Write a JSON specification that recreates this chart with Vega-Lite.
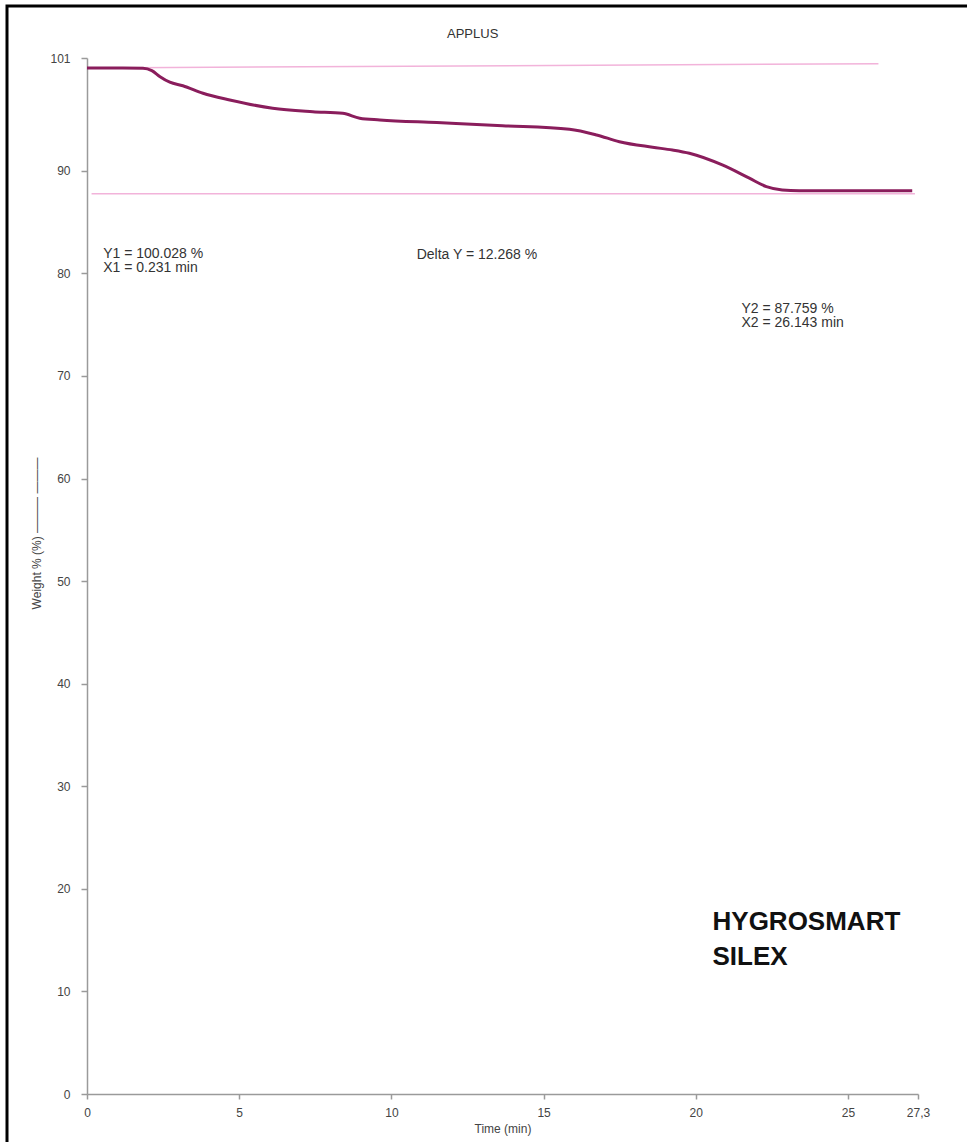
{
  "$schema": "https://vega.github.io/schema/vega-lite/v6.json",
  "autosize": {"type": "none"},
  "width": 960,
  "height": 1136,
  "padding": {"left": 7, "top": 6, "right": 0, "bottom": 0},
  "background": "white",
  "config": {
    "view": {"stroke": "#000000", "strokeWidth": 3, "strokeDash": [960, 2096, 1200, 100]},
    "font": "Liberation Sans",
    "axis": {
      "domainColor": "#9a9a9a",
      "tickColor": "#9a9a9a",
      "labelColor": "#444444",
      "titleColor": "#444444",
      "labelFont": "Liberation Sans",
      "titleFont": "Liberation Sans",
      "labelFontSize": 12,
      "titleFontSize": 12,
      "titleFontWeight": "normal",
      "grid": false,
      "domainWidth": 1.5,
      "tickWidth": 1.5
    }
  },
  "title": {
    "text": "APPLUS",
    "fontSize": 13,
    "fontWeight": "normal",
    "color": "#333333",
    "font": "Liberation Sans",
    "anchor": "start",
    "dx": 440,
    "offset": -35
  },
  "datasets": {
    "curve": [
      {"t": 0.0, "w": 100.03},
      {"t": 1.0, "w": 100.02},
      {"t": 1.84, "w": 100.0},
      {"t": 2.13, "w": 99.77},
      {"t": 2.4, "w": 99.18},
      {"t": 2.72, "w": 98.64},
      {"t": 3.15, "w": 98.3},
      {"t": 3.81, "w": 97.56},
      {"t": 4.69, "w": 96.91},
      {"t": 6.1, "w": 96.1},
      {"t": 7.42, "w": 95.77},
      {"t": 8.4, "w": 95.61},
      {"t": 8.96, "w": 95.13},
      {"t": 9.62, "w": 94.96},
      {"t": 11.49, "w": 94.7},
      {"t": 13.65, "w": 94.4},
      {"t": 15.85, "w": 94.05},
      {"t": 16.74, "w": 93.5},
      {"t": 17.49, "w": 92.84},
      {"t": 18.58, "w": 92.3},
      {"t": 19.23, "w": 92.03},
      {"t": 19.79, "w": 91.71},
      {"t": 20.87, "w": 90.57},
      {"t": 21.76, "w": 89.28},
      {"t": 22.32, "w": 88.46},
      {"t": 22.84, "w": 88.13},
      {"t": 23.4, "w": 88.06},
      {"t": 25.0, "w": 88.05},
      {"t": 27.11, "w": 88.05}
    ],
    "refs": [
      {"line": "upper", "t": 0.0, "w": 100.03},
      {"line": "upper", "t": 26.0, "w": 100.45},
      {"line": "lower", "t": 0.15, "w": 87.76},
      {"line": "lower", "t": 27.2, "w": 87.76}
    ],
    "notes": [
      {"t": 0.53, "w": 82.6, "label": "Y1 = 100.028 %\nX1 = 0.231 min"},
      {"t": 10.83, "w": 82.5, "label": "Delta Y = 12.268 %"},
      {"t": 21.5, "w": 77.2, "label": "Y2 = 87.759 %\nX2 = 26.143 min"}
    ],
    "tag": [
      {"t": 20.55, "w": 16.0, "label": "HYGROSMART\nSILEX"}
    ]
  },
  "layer": [
    {
      "data": {"name": "refs"},
      "mark": {"type": "line", "color": "#f2b3da", "strokeWidth": 1.5},
      "encoding": {
        "x": {
          "field": "t",
          "type": "quantitative",
          "scale": {"domain": [0, 27.3], "range": [80, 911], "nice": false, "zero": false},
          "axis": {
            "title": "Time (min)",
            "values": [0, 5, 10, 15, 20, 25, 27.3],
            "labelExpr": "datum.value == 27.3 ? '27,3' : datum.label",
            "offset": -48,
            "tickSize": 5,
            "labelPadding": 8,
            "titlePadding": 5,
            "labelFlush": false,
            "labelOverlap": false
          }
        },
        "y": {
          "field": "w",
          "type": "quantitative",
          "scale": {"domain": [0, 101], "range": [1088, 52], "nice": false, "zero": true},
          "axis": {
            "title": "Weight % (%)  ———  ———",
            "titleFontSize": 12,
            "values": [0, 10, 20, 30, 40, 50, 60, 70, 80, 90, 101],
            "offset": -80,
            "tickSize": 6,
            "labelPadding": 11,
            "titleX": -44,
            "titleY": 527,
            "labelFlush": false,
            "labelOverlap": false
          }
        },
        "detail": {"field": "line", "type": "nominal"}
      }
    },
    {
      "data": {"name": "curve"},
      "mark": {"type": "line", "color": "#8a1d5c", "strokeWidth": 3, "interpolate": "monotone"},
      "encoding": {
        "x": {"field": "t", "type": "quantitative"},
        "y": {"field": "w", "type": "quantitative"}
      }
    },
    {
      "data": {"name": "notes"},
      "mark": {"type": "text", "align": "left", "baseline": "top", "fontSize": 14, "lineHeight": 14, "lineBreak": "\n", "color": "#333333", "font": "Liberation Sans"},
      "encoding": {
        "x": {"field": "t", "type": "quantitative"},
        "y": {"field": "w", "type": "quantitative"},
        "text": {"field": "label"}
      }
    },
    {
      "data": {"name": "tag"},
      "mark": {"type": "text", "align": "left", "baseline": "alphabetic", "fontSize": 26, "fontWeight": "bold", "lineHeight": 35, "lineBreak": "\n", "color": "#111111", "font": "Liberation Sans"},
      "encoding": {
        "x": {"field": "t", "type": "quantitative"},
        "y": {"field": "w", "type": "quantitative"},
        "text": {"field": "label"}
      }
    }
  ]
}
